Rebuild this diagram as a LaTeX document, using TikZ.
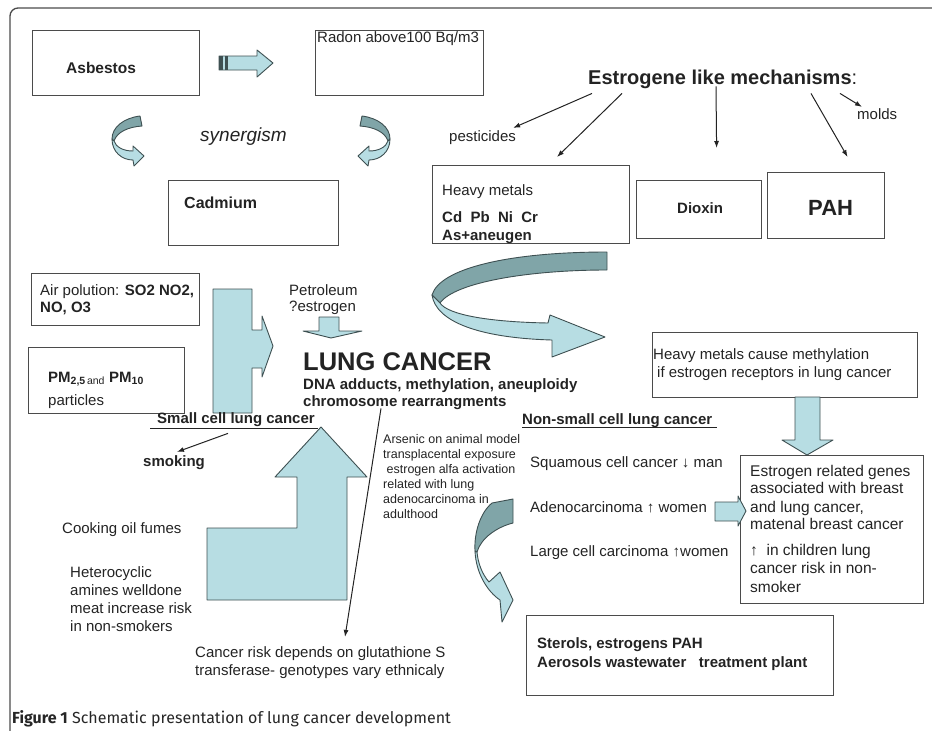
\documentclass[tikz,border=0pt]{standalone}
\usepackage{fontspec}
\setmainfont{Liberation Sans}
\newfontfamily\capfont{Fira Sans}
\usetikzlibrary{arrows.meta}
\definecolor{teal0}{RGB}{183,221,227}
\definecolor{teal1}{RGB}{128,165,168}
\definecolor{edge}{RGB}{62,80,82}
\definecolor{ink}{RGB}{35,35,35}
\definecolor{boxline}{RGB}{75,75,75}
\newcommand{\fsz}[1]{\fontsize{#1}{#1}\selectfont}

\begin{document}
\begin{tikzpicture}[
		x=1pt,y=-1pt,every node/.style={inner sep=0pt,text=ink},
		box/.style={draw=boxline,line width=1.2pt,anchor=north west},
		txt/.style={anchor=base west,font=\fsz{15}},
		btxt/.style={anchor=base west,font=\fsz{15}\bfseries},
		arr/.style={draw=ink,line width=1pt,-{Latex[length=7pt,width=5pt]}},
		blk/.style={fill=teal0,draw=edge,line width=0.9pt,line join=round},
		blkd/.style={fill=teal1,draw=edge,line width=0.9pt,line join=round}
	]
	\path[use as bounding box] (0,0) rectangle (932,731);
	\clip (0,0) rectangle (932,731);
	\draw[boxline,line width=1.3pt,rounded corners=8pt] (10,8) rectangle (950,750);

	%boxes
		\foreach \nm/\x/\y/\w/\h in {asb/32/30/167/65, radon/315/30/168/65, cad/168/180/170/65, hm/432/165/197/78, diox/636/180/125/58, pah/767/172/117/66, air/31/273/168/52, pm/28/347/156/66, meth/652/332/265/65, gene/740/455/183/148, ster/526/615/307/80}
			\node[box,minimum width=\w,minimum height=\h] (\nm) at (\x,\y) {};

	%block arrows
		\draw[blk] (219,56) -- (257,56) -- (257,50) -- (273,63) -- (257,77) -- (257,70) -- (219,70) -- cycle;
		\fill[edge] (219,56) rectangle (223,70);
		\fill[edge] (225,56) rectangle (228,70);
		\draw[blk] (213,289) -- (252,289) -- (252,330) -- (262,330) -- (262,316) -- (273,346) -- (262,377) -- (262,368) -- (252,368) -- (252,413) -- (213,413) -- cycle;
		\draw[blk] (319,317) -- (339,317) -- (339,331) -- (362,331) -- (331,338) -- (303,331) -- (319,331) -- cycle;
		\draw[blk] (321,427) -- (367,477) -- (347,477) -- (347,600) -- (207,600) -- (207,528) -- (297,528) -- (297,477) -- (275,477) -- cycle;
		\draw[blk] (795,397) -- (820,397) -- (820,440) -- (833,440) -- (807,455) -- (782,440) -- (795,440) -- cycle;
		\draw[blk] (715,502) -- (738,502) -- (738,496) -- (746,511) -- (738,526) -- (738,521) -- (715,521) -- cycle;

	%curved arrows
		\foreach \sx/\ox in {1/0, -1/502}
		{
			\begin{scope}[xshift=\ox, xscale=\sx]
				\draw[blkd] (140,116) .. controls (124,118) and (112,127) .. (112,139) -- (114,141) .. controls (117,132) and (128,127) .. (142,126) -- cycle;
				\draw[blk] (112,139) .. controls (112,152) and (122,160) .. (133,160) -- (134,166) -- (144,156) -- (133,146) -- (133,151) .. controls (123,151) and (116,147) .. (114,141) -- cycle;
			\end{scope}
		}
		\draw[blkd] (607,252) .. controls (510,252) and (440,268) .. (432,295) -- (440,303) .. controls (455,282) and (530,270) .. (607,270) -- cycle;
		\draw[blk] (432,295) .. controls (436,322) and (480,338) .. (552,340) -- (552,357) -- (605,337) -- (550,315) -- (548,323) .. controls (490,322) and (448,315) .. (440,303) -- cycle;
		\draw[blkd] (492,503) -- (513,499) -- (513,523) .. controls (497,527) and (481,538) .. (477,552) -- (475,551) .. controls (474,533) and (480,513) .. (492,503) -- cycle;
		\draw[blk] (475,551) .. controls (476,574) and (488,592) .. (500,600) -- (502,622) -- (513,600) -- (500,572) -- (489,582) .. controls (482,574) and (478,563) .. (477,552) -- cycle;

	%texts
		\node[btxt,font=\fsz{15.5}\bfseries] (asbt) at (66,73) {Asbestos};
		\node[txt] (radt) at (317,42) {Radon above100 Bq/m3};
		\node[txt,font=\fsz{19}\itshape] (syn) at (200,141) {synergism};
		\node[btxt,font=\fsz{16}\bfseries] (cadt) at (184,208) {Cadmium};
		\node[btxt,font=\fsz{20}\bfseries] (est) at (588,84) {Estrogene like mechanisms\textmd{:}};
		\node[txt] (pest) at (449,141) {pesticides};
		\node[txt] (molds) at (857,119) {molds};
		\node[txt] (hm1) at (442,195) {Heavy metals};
		\node[btxt] (hm2) at (442,222) {Cd\ \ Pb\ \ Ni\ \ Cr};
		\node[btxt] (hm3) at (442,240) {As+aneugen};
		\node[btxt] (dioxt) at (677,213) {Dioxin};
		\node[btxt,font=\fsz{22}\bfseries] (paht) at (808,215) {PAH};
		\node[txt] (air1) at (40,295) {Air polution: \textbf{SO2 NO2,}};
		\node[btxt] (air2) at (40,312) {NO, O3};
		\node[btxt] (pm1) at (48,382) {PM\textsubscript{2,5\,\mdseries and} PM\textsubscript{10}};
		\node[txt] (pm2) at (48,405) {particles};
		\node[txt] (pet1) at (289,295) {Petroleum};
		\node[txt] (pet2) at (289,311) {?estrogen};
		\node[btxt,font=\fsz{25.5}\bfseries] (lung) at (303,370) {LUNG CANCER};
		\node[btxt] (dna) at (303,389) {DNA adducts, methylation, aneuploidy};
		\node[btxt] (chrom) at (303,406) {chromosome rearrangments};
		\node[btxt] (sclc) at (157,423) {Small cell lung cancer};
		\node[btxt] (smok) at (143,466) {smoking};
		\foreach \t [count=\i from 0] in {Arsenic on animal model, transplacental exposure, \ estrogen alfa activation, related with lung, adenocarcinoma in, adulthood}
			\node[txt,font=\fsz{12.5}] (ars\i) at (383,443+15.1*\i) {\t};
		\node[txt] (cook) at (62,533) {Cooking oil fumes};
		\foreach \t [count=\i from 0] in {Heterocyclic, amines welldone, meat increase risk, in non-smokers}
			\node[txt] (het\i) at (70,577+18*\i) {\t};
		\node[txt] (risk1) at (195,657) {Cancer risk depends on glutathione S};
		\node[txt] (risk2) at (195,675) {transferase- genotypes vary ethnicaly};
		\node[btxt] (nsclc) at (522,424) {Non-small cell lung cancer};
		\node[txt] (squ) at (530,467) {Squamous cell cancer ↓ man};
		\node[txt] (ade) at (530,512) {Adenocarcinoma ↑ women};
		\node[txt] (lar) at (530,556) {Large cell carcinoma ↑women};
		\node[txt] (meth1) at (653,359) {Heavy metals cause methylation};
		\node[txt] (meth2) at (657,377) {if estrogen receptors in lung cancer};
		\foreach \t/\yy [count=\i] in {Estrogen related genes/476, associated with breast/493, {and lung cancer,}/512, matenal breast cancer/529, ↑\ \ in children lung/555, cancer risk in non-/573, smoker/592}
			\node[txt,font=\fsz{15.5}] (gene\i) at (750,\yy) {\t};
		\node[btxt] (st1) at (537,648) {Sterols, estrogens PAH};
		\node[btxt] (st2) at (537,667) {Aerosols wastewater\ \ \ treatment plant};
		\node[anchor=base west,font=\capfont\fsz{16},text=black!85] (cap) at (12,723) {\textbf{Figure 1} Schematic presentation of lung cancer development};

	%underlines
		\draw[ink,line width=1pt] ([shift={(-7,2)}]sclc.south west) -- ([shift={(3,2)}]sclc.south east);
		\draw[ink,line width=1pt] ([shift={(0,0.5)}]nsclc.south west) -- ([shift={(5,0.5)}]nsclc.south east);

	%connectors
		\draw[arr] ([shift={(4,5)}]est.south west) -- ([shift={(-3,-2)}]pest.north east);
		\draw[arr] ([shift={(34,5)}]est.south west) -- ([shift={(125,-8)}]hm.north west);
		\draw[arr] ([shift={(128,-2)}]est.south west) -- ([shift={(17.5,-32)}]diox.north);
		\draw[arr] ([shift={(223,5)}]est.south west) -- ([shift={(21.5,-15)}]pah.north);
		\draw[arr] ([shift={(252,5)}]est.south west) -- ([shift={(5,-1)}]molds.north west);
		\draw[arr] ([shift={(71,7)}]sclc.south west) -- ([shift={(34,-3)}]smok.north west);
		\draw[arr] ([shift={(78,-1)}]chrom.south west) -- ([shift={(150,-9)}]risk1.north west);
	\end{tikzpicture}
\end{document}
